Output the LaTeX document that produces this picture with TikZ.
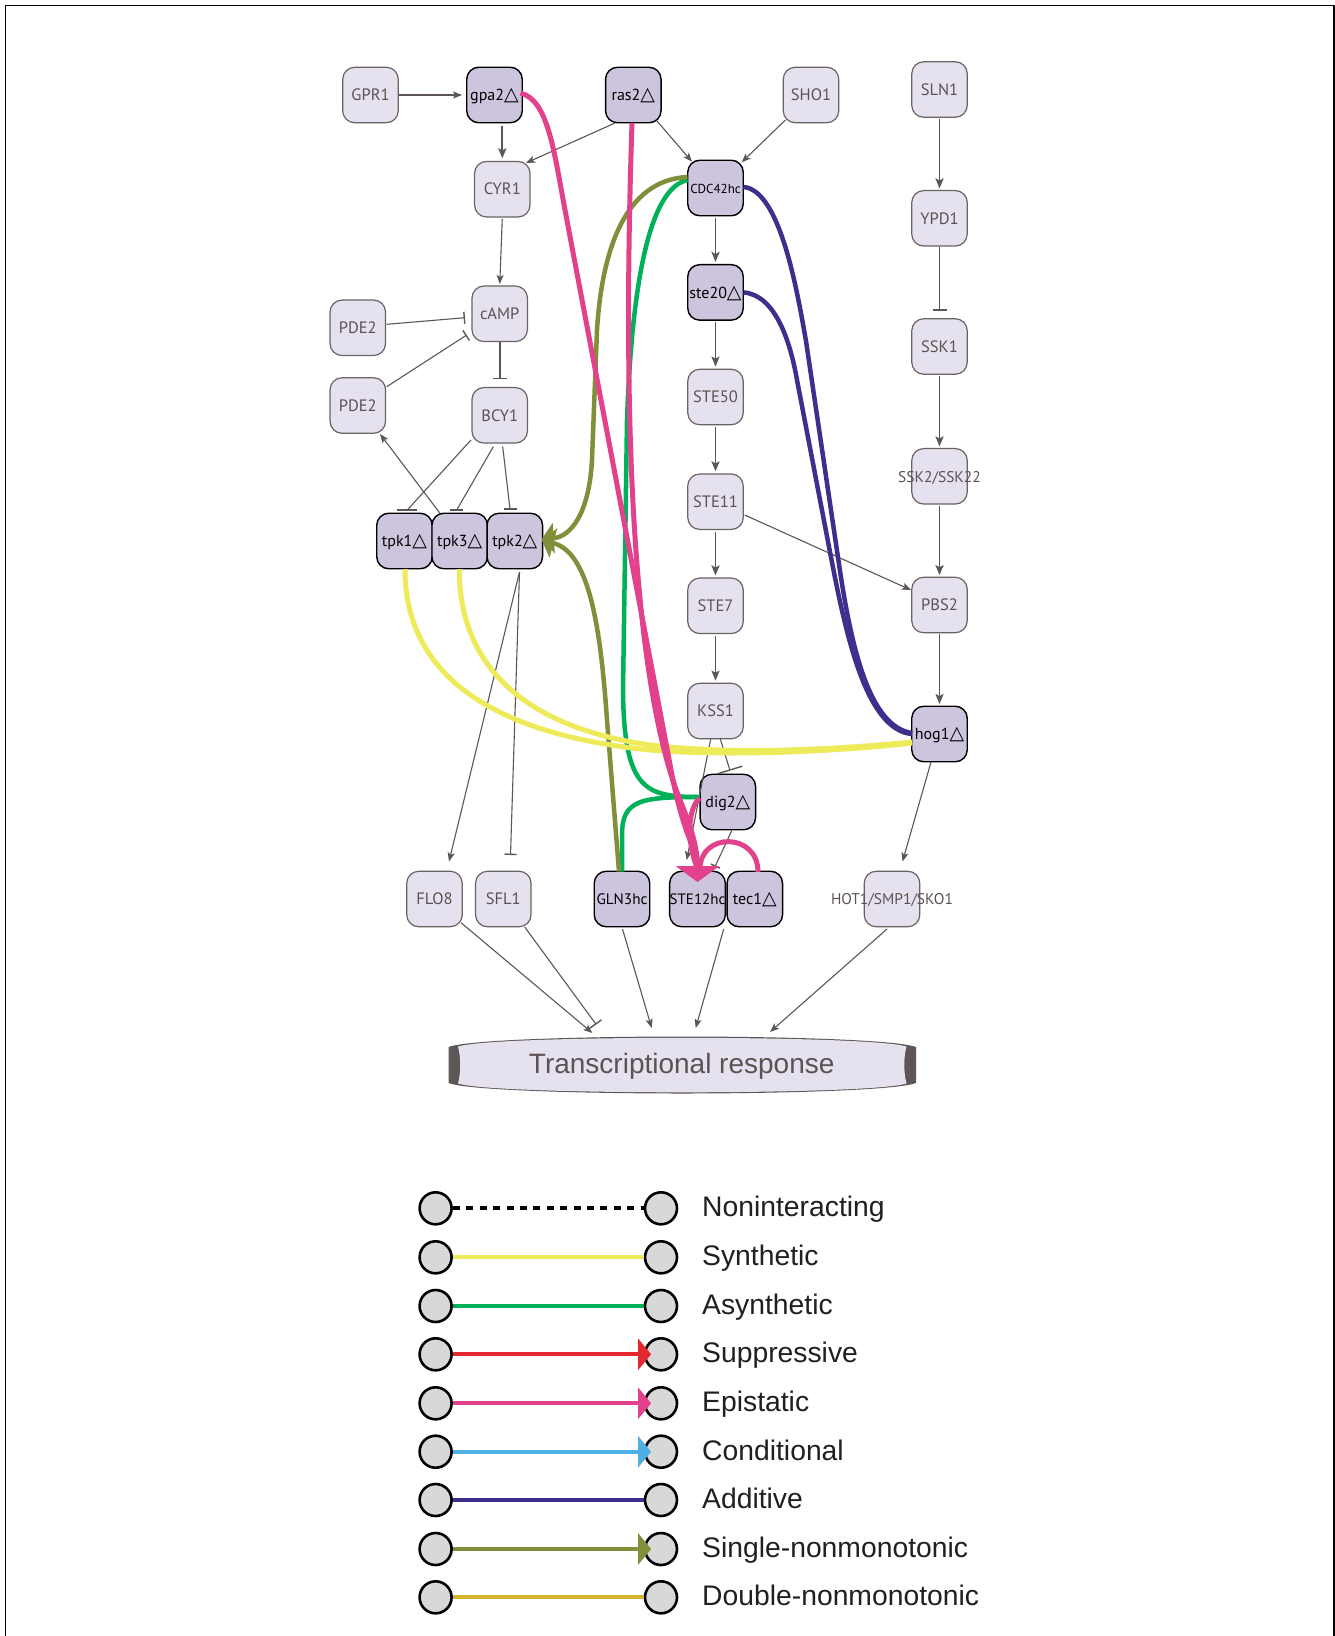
\documentclass[tikz,border=0pt]{standalone}
\usepackage{fontspec}
\setmainfont{Liberation Sans}
\newfontfamily\nodefont{PT Sans}
\newfontfamily\trifont{DejaVu Sans}
\usetikzlibrary{arrows.meta,calc}
\definecolor{lfill}{HTML}{E6E1EE}
\definecolor{dfill}{HTML}{CDC5DE}
\definecolor{lborder}{HTML}{6B6363}
\definecolor{ltext}{HTML}{5C5252}
\definecolor{gline}{HTML}{5E5656}
\definecolor{cpink}{HTML}{E2418B}
\definecolor{colive}{HTML}{7F8F3A}
\definecolor{cgreen}{HTML}{00B15A}
\definecolor{cyellow}{HTML}{EEEB5A}
\definecolor{cpurple}{HTML}{3F2F8C}
\definecolor{cred}{HTML}{E3282F}
\definecolor{cblue}{HTML}{4FAEE3}
\definecolor{cgold}{HTML}{D3B731}
\definecolor{cgrey}{HTML}{D8D8D8}
\definecolor{ltxt}{HTML}{231F20}
\newcommand{\tri}{{\trifont\fontsize{19}{19}\selectfont △}}
\newcommand{\wide}[1]{\makebox[0pt]{#1}}
\begin{document}
\begin{tikzpicture}[x=1pt,y=-1pt,
  lnode/.style={rectangle, rounded corners=12pt, minimum width=55.5pt, minimum height=55.5pt,
    inner sep=0pt, draw=lborder, fill=lfill, line width=1.2pt, text=ltext,
    font=\nodefont\fontsize{16.5}{19}\selectfont, text height=11.5pt, text depth=0pt},
  dnode/.style={lnode, draw=black, fill=dfill, text=black, line width=1.4pt},
  trinode/.style={dnode, font=\nodefont\fontsize{16}{19}\selectfont},
  garr/.style={draw=gline, line width=1.1pt, -{Stealth[length=9pt,width=7pt,inset=2pt]}},
  garrb/.style={garr, line width=1.8pt, -{Stealth[length=10pt,width=8pt,inset=2pt]}},
  gplain/.style={draw=gline, line width=1.1pt},
  gbar/.style={draw=gline, line width=1.4pt},
  gtee/.style={draw=gline, line width=1.1pt, -{Bar[width=12pt,line width=1.4pt]}},
  gteeb/.style={draw=gline, line width=1.8pt, -{Bar[width=14pt,line width=1.8pt]}},
  pinkE/.style={draw=cpink, line width=5pt},
  oliveE/.style={draw=colive, line width=4.5pt},
  greenE/.style={draw=cgreen, line width=4.5pt},
  yelE/.style={draw=cyellow, line width=5pt},
  purE/.style={draw=cpurple, line width=4.5pt},
  bighead/.style={-{Triangle[width=30pt,length=12pt]}},
  legc/.style={circle, draw=black, line width=2.6pt, fill=cgrey, minimum size=32pt, inner sep=0pt},
  legt/.style={font=\fontsize{28.3}{34}\selectfont, text=ltxt, inner sep=0pt},
  ldot/.style={draw=black, line width=4.2pt, dash pattern=on 7pt off 6.4pt},
  lyel/.style={draw=cyellow, line width=4.2pt},
  lgreen/.style={draw=cgreen, line width=4.2pt},
  lred/.style={draw=cred, line width=4.2pt, -{Triangle[width=31pt,length=13pt]}, shorten >=-7.4pt},
  lpink/.style={draw=cpink, line width=4.2pt, -{Triangle[width=31pt,length=13pt]}, shorten >=-7.4pt},
  lblue/.style={draw=cblue, line width=4.2pt, -{Triangle[width=31pt,length=13pt]}, shorten >=-7.4pt},
  lpur/.style={draw=cpurple, line width=4.2pt},
  lolive/.style={draw=colive, line width=4.2pt, -{Triangle[width=31pt,length=13pt]}, shorten >=-7.4pt},
  lgold/.style={draw=cgold, line width=4.2pt}
]
\useasboundingbox (0,0) rectangle (1335,1636);
\fill[white] (0,0) rectangle (1335,1636);
\draw[line width=1.5pt] (5.5,1636) -- (5.5,5.5) -- (1334,5.5) -- (1334,1636);

% ---------- nodes ----------
\node[lnode] (GPR1) at (370.5,95) {GPR1};
\node[trinode] (gpa2) at (494.5,95) {gpa2\tri};
\node[trinode] (ras2) at (633.3,95) {ras2\tri};
\node[lnode] (SHO1) at (811,95) {SHO1};
\node[lnode] (SLN1) at (939.5,89.5) {SLN1};
\node[lnode] (CYR1) at (502.3,189.2) {CYR1};
\node[dnode, font=\nodefont\fontsize{13}{16}\selectfont] (CDC42hc) at (715.5,188) {CDC42hc};
\node[lnode] (YPD1) at (939.5,218.3) {YPD1};
\node[lnode] (cAMP) at (499.7,313.8) {cAMP};
\node[lnode] (PDE2a) at (357.8,327.8) {PDE2};
\node[trinode] (ste20) at (715.5,292.4) {ste20\tri};
\node[lnode] (SSK1) at (939.5,346.5) {SSK1};
\node[lnode] (PDE2b) at (357.8,405.5) {PDE2};
\node[lnode] (BCY1) at (499.7,415.3) {BCY1};
\node[lnode] (STE50) at (715.5,397) {STE50};
\node[lnode, font=\nodefont\fontsize{15.5}{18}\selectfont] (SSK2) at (939.5,476.3) {\wide{SSK2/SSK22}};
\node[lnode] (STE11) at (715.5,501.7) {STE11};
\node[trinode] (tpk1) at (404.5,541) {tpk1\tri};
\node[trinode] (tpk3) at (459.7,541) {tpk3\tri};
\node[trinode] (tpk2) at (514.8,541) {tpk2\tri};
\node[lnode] (STE7) at (715.5,605.8) {STE7};
\node[lnode] (PBS2) at (939.5,605) {PBS2};
\node[lnode] (KSS1) at (715.5,711) {KSS1};
\node[trinode] (hog1) at (939.5,734) {hog1\tri};
\node[trinode] (dig2) at (727.8,802) {dig2\tri};
\node[lnode] (FLO8) at (434.5,899) {FLO8};
\node[lnode] (SFL1) at (503.3,899) {SFL1};
\node[dnode, font=\nodefont\fontsize{15.2}{17}\selectfont] (GLN3hc) at (622,899) {GLN3hc};
\node[dnode, font=\nodefont\fontsize{15}{17}\selectfont] (STE12hc) at (697.5,899) {STE12hc};
\node[trinode] (tec1) at (754.8,899) {tec1\tri};
\node[lnode, font=\nodefont\fontsize{15.5}{18}\selectfont] (HOT1) at (892,899) {\wide{HOT1/SMP1/SKO1}};

% ---------- transcriptional response ----------
\node[minimum width=467pt, minimum height=57pt, inner sep=0pt] (TR) at (682.3,1065) {};
\fill[gline] (448.5,1047) .. controls (470,1039) and (600,1036.5) .. (682,1036.5)
  .. controls (764,1036.5) and (894,1039) .. (916,1047) -- (916,1083)
  .. controls (894,1091) and (764,1093.5) .. (682,1093.5)
  .. controls (600,1093.5) and (470,1091) .. (448.5,1083) -- cycle;
\fill[lfill] (458,1046.5) .. controls (480,1039.8) and (600,1037.8) .. (682,1037.8)
  .. controls (764,1037.8) and (884,1039.8) .. (906.5,1046.5)
  .. controls (903.5,1058) and (903.5,1072) .. (906.5,1083.5)
  .. controls (884,1090.3) and (764,1092.3) .. (682,1092.3)
  .. controls (600,1092.3) and (480,1090.3) .. (458,1083.5)
  .. controls (461,1072) and (461,1058) .. (458,1046.5) -- cycle;
\node[font=\fontsize{28}{34}\selectfont, text=ltext, anchor=base, inner sep=0pt] (TRtext) at (681.7,1073.3) {Transcriptional response};
\coordinate (trA) at ($(TR)+(-89.9,-32)$);
\coordinate (trB) at ($(TR)+(-86.1,-40.5)$);
\coordinate (trC) at ($(TR)+(-30.6,-37)$);
\coordinate (trD) at ($(TR)+(13.4,-37)$);
\coordinate (trE) at ($(TR)+(87.7,-33)$);

% ---------- grey regulatory edges ----------
\draw[garr, shorten >=4pt] (GPR1) -- (gpa2);
\draw[garrb, shorten <=3pt, shorten >=2.5pt] (gpa2.south -| CYR1.north) -- (CYR1.north);
\draw[garr] ($(ras2)+(-18.3,28)$) -- ($(CYR1)+(23.7,-26.2)$);
\draw[garr] ($(ras2)+(23.4,25.7)$) -- ($(CDC42hc)+(-23.5,-26.3)$);
\draw[garr] ($(SHO1)+(-25.6,25)$) -- ($(CDC42hc)+(26.2,-25.7)$);
\draw[garr, shorten <=1.5pt, shorten >=1.5pt] (CYR1.south) -- (cAMP.north);
\draw[gtee] ($(PDE2a)+(28.9,-3.5)$) -- ($(cAMP)+(-34.7,3.9)$);
\draw[gtee] ($(PDE2b)+(28.9,-18.8)$) -- ($(cAMP)+(-33,21.2)$);
\draw[gteeb, shorten >=7.5pt] (cAMP.south) -- (BCY1.north);
\coordinate (b1) at ($(tpk1)+(2.8,-31)$);
\coordinate (b3) at ($(tpk3)+(-3,-31)$);
\coordinate (b2) at ($(tpk2)+(-4.8,-32)$);
\draw[gplain] ($(BCY1)+(-28.7,24.7)$) -- (b1);
\draw[gbar] ($(b1)+(-10,0)$) -- ($(b1)+(10,0)$);
\draw[gplain] ($(BCY1)+(-6.4,31.4)$) -- (b3);
\draw[gbar] ($(b3)+(-6.5,0)$) -- ($(b3)+(6.5,0)$);
\draw[gplain] ($(BCY1)+(3,31.4)$) -- (b2);
\draw[gbar] ($(b2)+(-6.5,0)$) -- ($(b2)+(6.5,0)$);
\draw[garr] ($(tpk3)+(-19.7,-27.7)$) -- ($(PDE2b)+(22.2,28.5)$);

\draw[garrb, shorten <=1pt, shorten >=1.5pt] (SLN1) -- (YPD1);
\draw[gteeb, shorten >=7pt] (YPD1) -- (SSK1);
\draw[garrb, shorten <=1pt, shorten >=1.5pt] (SSK1) -- (SSK2);
\draw[garrb, shorten <=1pt, shorten >=1.5pt] (SSK2) -- (PBS2);
\draw[garrb, shorten <=1pt, shorten >=1.5pt] (PBS2) -- (hog1);

\draw[garrb, shorten <=1.5pt, shorten >=2pt] (CDC42hc) -- (ste20);
\draw[garrb, shorten <=1.5pt, shorten >=2pt] (ste20) -- (STE50);
\draw[garrb, shorten <=1.5pt, shorten >=2pt] (STE50) -- (STE11);
\draw[garrb, shorten <=1.5pt, shorten >=2pt] (STE11) -- (STE7);
\draw[garrb, shorten <=1.5pt, shorten >=2pt] (STE7) -- (KSS1);
\draw[garr] ($(STE11)+(29.2,13.3)$) -- ($(PBS2)+(-28.5,-15)$);
\draw[gtee, -{Bar[width=26pt,line width=1.4pt]}] ($(KSS1)+(4.5,27)$) -- ($(dig2)+(2.2,-31.3)$);
\draw[garr] ($(KSS1)+(-4.8,28)$) -- ($(STE12hc)+(-10.8,-39)$);
\draw[gtee, -{Bar[width=10pt,line width=1.4pt]}] ($(dig2)+(3.9,28.7)$) -- ($(STE12hc)+(17.5,-32.3)$);
\draw[garr] ($(tpk2)+(4.7,31)$) -- ($(FLO8)+(14.5,-37.5)$);
\draw[gtee] ($(tpk2)+(4.7,31)$) -- ($(SFL1)+(7.2,-44)$);
\draw[garr] ($(hog1)+(-8.5,28)$) -- ($(HOT1)+(10.5,-37.5)$);

\draw[garr] ($(FLO8)+(26.5,23.7)$) -- (trA);
\draw[gtee, -{Bar[width=14pt,line width=1.4pt]}] ($(SFL1)+(21.4,28)$) -- (trB);
\draw[garr] ($(GLN3hc)+(0.5,30)$) -- (trC);
\draw[garr] ($(STE12hc)+(26.2,30)$) -- (trD);
\draw[garr] ($(HOT1)+(-5,30)$) -- (trE);

% ---------- genetic interaction edges ----------
% additive
\draw[purE] ($(CDC42hc)+(28,-1)$) .. controls (780,190) and (797,290) .. (806,341)
  -- (840,571) .. controls (852,650) and (870,727) .. ($(hog1)+(-27.5,-1)$);
\draw[purE] ($(ste20)+(28,0)$) .. controls (775,295) and (790,340) .. (797,380)
  -- (830,552) .. controls (845,630) and (865,730) .. ($(hog1)+(-27.5,0)$);
% asynthetic
\draw[greenE] ($(CDC42hc)+(-28,-8)$) .. controls (650,188) and (632,280) .. (627,420)
  -- (623,690) .. controls (624,790) and (645,797) .. ($(dig2)+(-28,-5)$);
\draw[greenE] ($(GLN3hc)+(0,-27.5)$) -- (622,835) .. controls (622,800) and (640,797) .. ($(dig2)+(-28,-5)$);
% single-nonmonotonic
\draw[oliveE, bighead] ($(CDC42hc)+(-28,-11)$) .. controls (625,180) and (602,250) .. (597,330)
  -- (592,460) .. controls (589,515) and (570,537) .. ($(tpk2)+(27,-2)$);
\draw[oliveE, bighead] ($(GLN3hc)+(-3,-27.5)$) -- (607,720) .. controls (600,620) and (588,552) .. ($(tpk2)+(27,-1)$);
% synthetic
\draw[yelE] ($(tpk1)+(0.5,28)$) .. controls (405,680) and (500,735) .. (650,750)
  .. controls (750,758) and (870,748) .. ($(hog1)+(-27.5,9)$);
\draw[yelE] ($(tpk3)+(-0.4,28)$) .. controls (459,670) and (530,728) .. (650,745)
  .. controls (750,757) and (870,746) .. ($(hog1)+(-27.5,8)$);
% epistatic
\draw[pinkE] ($(ras2)+(-1.3,28)$) .. controls (620,480) and (640,700) .. (680,800)
  .. controls (690,825) and (697.5,845) .. ($(STE12hc)+(0,-30)$);
\draw[pinkE] ($(dig2)+(-28,-4)$) .. controls (688,808) and (686,840) .. ($(STE12hc)+(0,-30)$);
\draw[pinkE] ($(tec1)+(3.2,-27)$) .. controls (758,832) and (700,832) .. ($(STE12hc)+(2.5,-30)$);
\draw[pinkE, -{Triangle[width=43pt,length=16pt]}] ($(gpa2)+(26,-2)$) .. controls (548,100) and (553.75,150) .. (565,210)
  -- (672,775) .. controls (684,838) and (697.5,850) .. ($(STE12hc)+(0,-17)$);

% ---------- legend ----------
\foreach \i/\yy/\sty/\txt in {
  1/1208.3/ldot/Noninteracting,
  2/1257.3/lyel/Synthetic,
  3/1306/lgreen/Asynthetic,
  4/1354.3/lred/Suppressive,
  5/1403.3/lpink/Epistatic,
  6/1451.7/lblue/Conditional,
  7/1500/lpur/Additive,
  8/1549/lolive/Single-nonmonotonic,
  9/1597.3/lgold/Double-nonmonotonic}{
  \node[legc] (la\i) at (435.6,\yy) {};
  \node[legc] (lb\i) at (661,\yy) {};
  \draw[\sty] (la\i) -- (lb\i);
  \node[legt, anchor=base west] (lt\i) at (702,\yy+8.5) {\txt};
}
\end{tikzpicture}
\end{document}
